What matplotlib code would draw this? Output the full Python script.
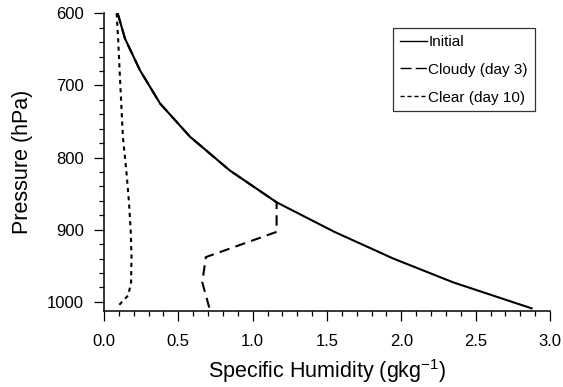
import matplotlib
matplotlib.use("Agg")
import matplotlib.pyplot as plt

plt.rcParams['font.family'] = ['Liberation Sans', 'DejaVu Sans']

# Data (specific humidity in g/kg vs pressure in hPa)
p_initial = [600, 635, 679, 725, 771, 818, 862, 903, 940, 973, 1009]
q_initial = [0.092, 0.141, 0.242, 0.377, 0.578, 0.847, 1.161, 1.550, 1.946, 2.349, 2.876]

p_cloudy = [600, 635, 679, 725, 771, 818, 862, 903, 938, 973, 1008]
q_cloudy = [0.092, 0.141, 0.242, 0.377, 0.578, 0.847, 1.161, 1.161, 0.685, 0.661, 0.708]

p_clear = [600, 635, 679, 725, 771, 818, 862, 903, 938, 973, 991, 1008]
q_clear = [0.085, 0.095, 0.105, 0.116, 0.127, 0.150, 0.168, 0.180, 0.185, 0.182, 0.163, 0.085]

labels = ["Initial", "Cloudy (day 3)", "Clear (day 10)"]

fig = plt.figure(figsize=(5.63, 3.87), dpi=100)
ax = fig.add_axes([104/563, 1-310.5/387, 446/563, (310.5-13.3)/387])

lw = 1.5
ax.plot(q_initial, p_initial, color='black', lw=lw, label=labels[0])
ax.plot(q_cloudy, p_cloudy, color='black', lw=lw, linestyle=(0, (5.0, 3.0)), label=labels[1])
ax.plot(q_clear, p_clear, color='black', lw=lw, linestyle=(0, (2.0, 2.0)), label=labels[2])

ax.set_xlim(0, 3.0)
ax.set_ylim(1012, 600)
ax.set_xticks([0.0, 0.5, 1.0, 1.5, 2.0, 2.5, 3.0])
ax.set_xticklabels(["0.0", "0.5", "1.0", "1.5", "2.0", "2.5", "3.0"])
ax.set_xticks([i/10 for i in range(31)], minor=True)
ax.set_yticks([600, 700, 800, 900, 1000])
ax.set_yticks(list(range(600, 1011, 20)), minor=True)

for s in ['top', 'right']:
    ax.spines[s].set_visible(False)
for s in ['left', 'bottom']:
    ax.spines[s].set_linewidth(1.1)

ax.tick_params(axis='x', which='major', direction='out', length=7.0, width=0.9, labelsize=12, pad=10)
ax.tick_params(axis='y', which='major', direction='out', length=7.5, width=0.9, labelsize=12, pad=7)
ax.tick_params(axis='both', which='minor', direction='out', length=3.3, width=0.9)

ax.set_xlabel("Specific Humidity (gkg$^{\\mathregular{-1}}$)", fontsize=15.5, labelpad=6)
ax.set_ylabel("Pressure (hPa)", fontsize=15.5, labelpad=10)

leg = ax.legend(loc='upper left', bbox_to_anchor=(0.648, 0.950), fontsize=11,
                frameon=True, fancybox=False, shadow=False, handlelength=1.8,
                handletextpad=0.05, borderpad=0.45, labelspacing=0.9,
                borderaxespad=0)
leg.get_frame().set_edgecolor('black')
leg.get_frame().set_linewidth(0.9)
hl = leg.get_lines()
for h in hl:
    h.set_linewidth(1.0)
hl[1].set_linestyle((0, (8.0, 3.0)))
hl[2].set_linestyle((0, (3.0, 2.0)))

fig.savefig("out.png", dpi=100)
